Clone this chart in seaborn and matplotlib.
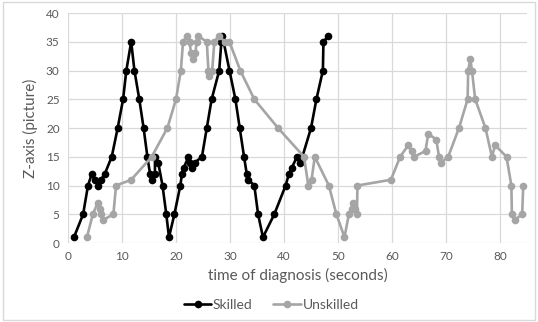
import matplotlib
matplotlib.use("Agg")
import matplotlib.pyplot as plt
import seaborn as sns
import pandas as pd
from matplotlib.patches import Rectangle

skilled_x = [1.1, 2.8, 3.7, 4.4, 5.0, 5.6, 6.1, 6.8, 8.1, 9.2, 10.2, 10.8, 11.7, 12.3, 13.2,
             14.0, 14.7, 15.2, 15.5, 16.1, 16.1, 16.7, 17.5, 18.2, 18.7, 19.7, 20.8, 21.1,
             21.4, 22.3, 22.6, 22.9, 23.5, 24.8, 25.7, 26.6, 28.0, 28.4, 28.6, 29.9, 31.0,
             31.8, 32.6, 33.1, 33.4, 34.5, 35.2, 36.1, 38.2, 40.3, 40.9, 41.4, 42.4, 42.9,
             43.4, 45.0, 46.0, 47.2, 47.3, 48.2]
skilled_y = [1, 5, 10, 12, 11, 10, 11, 12, 15, 20, 25, 30, 35, 30, 25,
             20, 15, 12, 11, 12, 15, 14, 10, 5, 1, 5, 10, 12,
             13, 15, 14, 13, 14, 15, 20, 25, 30, 35, 36, 30, 25,
             20, 15, 12, 11, 10, 5, 1, 5, 10, 12, 13, 15, 14,
             15, 20, 25, 30, 35, 36]

unskilled_x = [3.5, 4.6, 5.5, 5.9, 6.2, 6.5, 8.4, 8.9, 11.7, 15.5, 18.4, 20.0, 20.9, 21.3,
               22.0, 22.5, 22.8, 23.1, 23.6, 23.8, 24.1, 25.7, 26.0, 26.2, 26.7, 27.1, 27.9,
               29.1, 29.9, 31.9, 34.5, 38.9, 43.7, 44.5, 45.1, 45.7, 48.3, 49.7, 51.2, 52.0,
               52.5, 52.8, 53.1, 53.5, 53.6, 59.8, 61.5, 63.0, 63.7, 64.1, 66.2, 66.7, 68.2,
               68.7, 69.1, 70.4, 72.4, 74.0, 74.1, 74.5, 74.8, 75.4, 77.3, 78.5, 79.1, 81.2,
               82.1, 82.2, 82.7, 84.1, 84.3]
unskilled_y = [1, 5, 7, 6, 5, 4, 5, 10, 11, 15, 20, 25, 30, 35,
               36, 35, 33, 32, 33, 35, 36, 35, 30, 29, 30, 35, 36,
               35, 35, 30, 25, 20, 15, 10, 11, 15, 10, 5, 1, 5,
               6, 7, 6, 5, 10, 11, 15, 17, 16, 15, 16, 19, 18,
               15, 14, 15, 20, 25, 30, 32, 30, 25, 20, 15, 17, 15,
               10, 5, 4, 5, 10]

series_names = ["Skilled", "Unskilled"]
x_ticks = [0, 10, 20, 30, 40, 50, 60, 70, 80]
y_ticks = [0, 5, 10, 15, 20, 25, 30, 35, 40]

df = pd.concat([
    pd.DataFrame({"t": skilled_x, "z": skilled_y, "group": series_names[0]}),
    pd.DataFrame({"t": unskilled_x, "z": unskilled_y, "group": series_names[1]}),
], ignore_index=True)

sns.set_theme(style="white")
plt.rcParams["font.family"] = ["Lato", "DejaVu Sans"]

fig = plt.figure(figsize=(5.38, 3.22), dpi=100)
ax = fig.add_axes([0.1264, 0.2453, 0.8532, 0.7143])

sns.lineplot(data=df, x="t", y="z", hue="group", hue_order=series_names,
             palette={"Skilled": "#000000", "Unskilled": "#A5A5A5"},
             sort=False, estimator=None, marker="o", markersize=5.5,
             markeredgewidth=0, linewidth=1.9, ax=ax, legend=True)

ax.set_xlim(0, 85)
ax.set_ylim(0, 40)
ax.set_xticks(x_ticks)
ax.set_yticks(y_ticks)
ax.grid(True, color="#d9d9d9", linewidth=0.9)
ax.set_axisbelow(True)
for s in ax.spines.values():
    s.set_visible(False)
ax.tick_params(axis="both", length=0, labelsize=8.5, labelcolor="#595959", pad=6)
ax.set_xlabel("time of diagnosis (seconds)", fontsize=11, color="#595959", labelpad=4)
ax.set_ylabel("Z-axis (picture)", fontsize=11, color="#595959", labelpad=6)

handles, labels = ax.get_legend_handles_labels()
ax.legend(handles, labels, loc="center", bbox_to_anchor=(0.504, 0.053),
          bbox_transform=fig.transFigure, ncol=2, frameon=False, fontsize=10,
          labelcolor="#595959", handlelength=2.0, handletextpad=0.1, columnspacing=1.5)

fig.patches.append(Rectangle((0.006, 0.006), 0.988, 0.988, transform=fig.transFigure,
                             fill=False, edgecolor="#d9d9d9", linewidth=1))

fig.savefig("out.png", dpi=100)
